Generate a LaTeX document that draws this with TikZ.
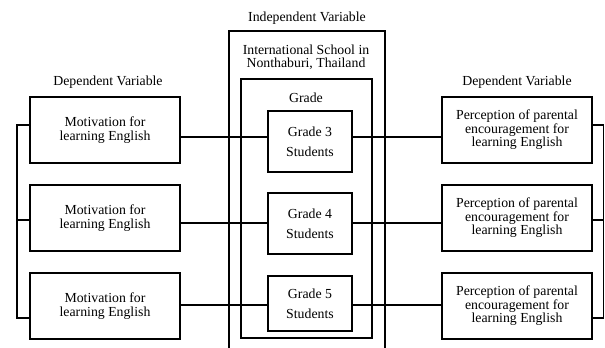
\documentclass[tikz,border=0pt]{standalone}
\usepackage{fontspec}
\setmainfont{Liberation Serif}
\begin{document}
\begin{tikzpicture}[x=1pt,y=-1pt,
  bx/.style={draw,line width=1.5pt,rectangle,inner sep=0pt,align=center,
    font=\fontsize{13.8}{13.6}\selectfont},
  side/.style={bx,minimum width=150pt,minimum height=66pt},
  gbox/.style={bx,minimum width=84pt,font=\fontsize{13.8}{20}\selectfont},
  lbl/.style={inner sep=0pt,align=center,font=\fontsize{13.8}{13.4}\selectfont},
  ln/.style={line width=1.5pt}]
\useasboundingbox (0,0) rectangle (605,348);
% labels
\node[lbl] (dl) at (108,82) {Dependent Variable};
\node[lbl] (dr) at (517,82) {Dependent Variable};
\node[lbl] (iv) at (307,18) {Independent Variable};
\node[lbl] (sch) at (306,57) {International School in\\Nonthaburi, Thailand};
\node[lbl] (gr) at (306,98) {Grade};
% containers
\draw[ln] (229,350) -- (229,31) -- (385,31) -- (385,350);
\node[draw,line width=1.5pt,inner sep=0pt,minimum width=131pt,minimum height=259pt] (gbig) at (306.5,208.5) {};
% side boxes
\node[side] (l1) at (105,130) {Motivation for\\learning English};
\node[side] (l2) at (105,218) {Motivation for\\learning English};
\node[side] (l3) at (105,306) {Motivation for\\learning English};
\node[side] (r1) at (517,130) {Perception of parental\\encouragement for\\learning English};
\node[side] (r2) at (517,218) {Perception of parental\\encouragement for\\learning English};
\node[side] (r3) at (517,306) {Perception of parental\\encouragement for\\learning English};
% grade boxes
\node[gbox,minimum height=61pt] (g3) at (310,141.5) {Grade 3\\Students};
\node[gbox,minimum height=61pt] (g4) at (310,223.5) {Grade 4\\Students};
\node[gbox,minimum height=55pt] (g5) at (310,303.5) {Grade 5\\Students};
% connector heights
\coordinate (c1) at (0,137);
\coordinate (c2) at (0,223);
\coordinate (c3) at (0,305);
\draw[ln] (l1.east |- c1) -- (g3.west |- c1);
\draw[ln] (g3.east |- c1) -- (r1.west |- c1);
\draw[ln] (l2.east |- c2) -- (g4.west |- c2);
\draw[ln] (g4.east |- c2) -- (r2.west |- c2);
\draw[ln] (l3.east |- c3) -- (g5.west |- c3);
\draw[ln] (g5.east |- c3) -- (r3.west |- c3);
% brackets
\coordinate (lb) at (17,0);
\coordinate (rb) at (603.5,0);
\coordinate (t1) at (0,125);
\coordinate (t2) at (0,220);
\coordinate (t3) at (0,318);
\draw[ln] (l1.west |- t1) -- (lb |- t1) -- (lb |- t3) -- (l3.west |- t3);
\draw[ln] (lb |- t2) -- (l2.west |- t2);
\draw[ln] (r1.east |- t1) -- (rb |- t1) -- (rb |- t3) -- (r3.east |- t3);
\draw[ln] (rb |- t2) -- (r2.east |- t2);
\end{tikzpicture}
\end{document}
